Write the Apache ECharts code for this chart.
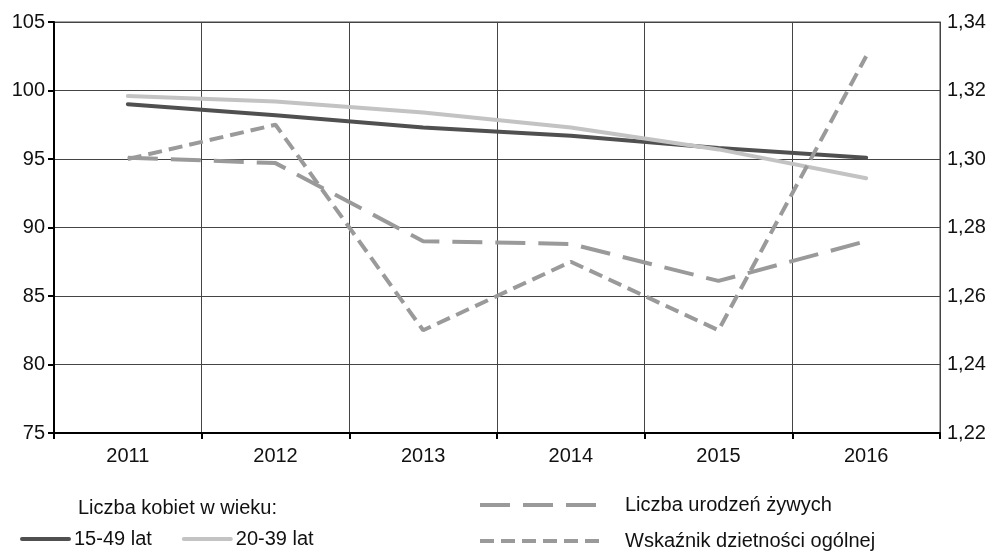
<!DOCTYPE html>
<html>
<head>
<meta charset="utf-8">
<script src="https://cdn.jsdelivr.net/npm/echarts@6/dist/echarts.min.js"></script>
<style>
  html, body { margin: 0; padding: 0; background: #fff; }
  #chart { width: 991px; height: 554px; }
</style>
</head>
<body>
<div id="chart"></div>
<script>
const years = ['2011', '2012', '2013', '2014', '2015', '2016']
const women1549 = [99.0, 98.2, 97.3, 96.7, 95.8, 95.1]
const women2039 = [99.6, 99.2, 98.4, 97.3, 95.7, 93.6]
const liveBirths = [95.1, 94.7, 89.0, 88.8, 86.1, 89.0]
const fertilityRate = [1.30, 1.31, 1.25, 1.27, 1.25, 1.33]

const font = 'Liberation Sans, Arial, sans-serif'
const labelStyle = { color: '#111', fontSize: 20, fontFamily: font }

const chart = echarts.init(document.getElementById('chart'))
chart.setOption({
  animation: false,
  backgroundColor: '#fff',
  title: {
    text: 'Liczba kobiet w wieku:',
    left: 73,
    top: 493,
    textStyle: { color: '#111', fontSize: 20, fontWeight: 'normal', fontFamily: font }
  },
  grid: {
    left: 54,
    right: 51,
    top: 22,
    bottom: 121,
    show: true,
    borderColor: '#444',
    borderWidth: 1
  },
  legend: [
    {
      data: ['15-49 lat', '20-39 lat'],
      left: 15,
      top: 524,
      itemWidth: 47,
      itemHeight: 12,
      itemGap: 30,
      itemStyle: { opacity: 0 },
      lineStyle: { width: 4 },
      textStyle: labelStyle
    },
    {
      data: ['Liczba urodzeń żywych'],
      left: 473,
      top: 490,
      itemWidth: 122,
      itemHeight: 12,
      itemStyle: { opacity: 0 },
      lineStyle: { width: 4 },
      textStyle: Object.assign({ padding: [0, 0, 0, 18] }, labelStyle)
    },
    {
      data: ['Wskaźnik dzietności ogólnej'],
      left: 473,
      top: 526,
      itemWidth: 122,
      itemHeight: 12,
      itemStyle: { opacity: 0 },
      lineStyle: { width: 4 },
      textStyle: Object.assign({ padding: [7, 0, 0, 18] }, labelStyle)
    }
  ],
  xAxis: {
    type: 'category',
    data: years,
    boundaryGap: true,
    axisLine: { lineStyle: { color: '#000', width: 2 } },
    axisTick: { show: true, length: 6, lineStyle: { color: '#000', width: 2 } },
    axisLabel: Object.assign({ margin: 13 }, labelStyle),
    splitLine: { show: true, lineStyle: { color: '#444', width: 1 } }
  },
  yAxis: [
    {
      type: 'value',
      min: 75,
      max: 105,
      interval: 5,
      axisLine: { show: true, lineStyle: { color: '#000', width: 2 } },
      axisTick: { show: true, length: 6, lineStyle: { color: '#000', width: 2 } },
      axisLabel: Object.assign({ margin: 9 }, labelStyle),
      splitLine: { show: true, lineStyle: { color: '#444', width: 1 } }
    },
    {
      type: 'value',
      min: 1.22,
      max: 1.34,
      interval: 0.02,
      position: 'right',
      axisLine: { show: true, lineStyle: { color: '#444', width: 1 } },
      axisTick: { show: false },
      axisLabel: Object.assign({
        margin: 7,
        formatter: v => v.toFixed(2).replace('.', ',')
      }, labelStyle),
      splitLine: { show: false }
    }
  ],
  series: [
    {
      name: '15-49 lat',
      type: 'line',
      data: women1549,
      symbol: 'none',
      lineStyle: { color: '#505050', width: 4, cap: 'round' },
      itemStyle: { color: '#505050' }
    },
    {
      name: '20-39 lat',
      type: 'line',
      data: women2039,
      symbol: 'none',
      lineStyle: { color: '#c3c3c3', width: 4, cap: 'round' },
      itemStyle: { color: '#c3c3c3' }
    },
    {
      name: 'Liczba urodzeń żywych',
      type: 'line',
      data: liveBirths,
      symbol: 'none',
      lineStyle: { color: '#9a9a9a', width: 4, type: [30, 13] },
      itemStyle: { color: '#9a9a9a' }
    },
    {
      name: 'Wskaźnik dzietności ogólnej',
      type: 'line',
      yAxisIndex: 1,
      data: fertilityRate,
      symbol: 'none',
      lineStyle: { color: '#9a9a9a', width: 4, type: [14, 7] },
      itemStyle: { color: '#9a9a9a' }
    }
  ]
})
window.addEventListener('resize', () => {
  chart.resize()
})
</script>
</body>
</html>
